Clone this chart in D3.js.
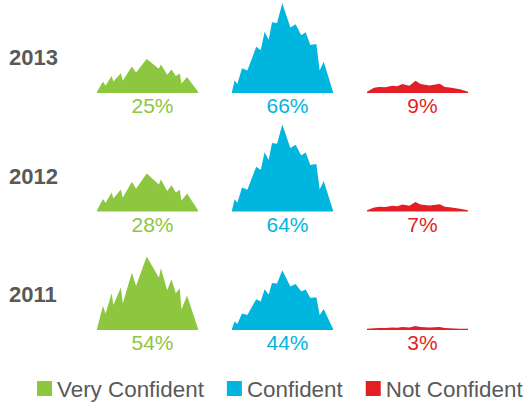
<!DOCTYPE html>
<html>
  <head>
    <style>
    body {
        margin: 0px;
        overflow: hidden;
        background: #fff;
    }
    text {
        font-family: "Liberation Sans", Arial, sans-serif;
    }
    </style>
    <script src="https://d3js.org/d3.v7.min.js"></script>
  </head>
  <body>
    <svg width="532" height="402"></svg>
    <script>
        // data
        const years = ['2013', '2012', '2011'];
        const categories = ['Very Confident', 'Confident', 'Not Confident'];
        const veryConfident = [25, 28, 54];
        const confident = [66, 64, 44];
        const notConfident = [9, 7, 3];
        const colors = ['#8dc63f', '#00b5de', '#e31e25'];

        // mountain outlines for each category: [x fraction, height fraction]
        const greenProfile = [[0,0],[0.059,0.33],[0.085,0.22],[0.145,0.5],[0.162,0.34],[0.236,0.58],[0.255,0.36],[0.345,0.78],[0.387,0.6],[0.492,1],[0.613,0.71],[0.633,0.84],[0.695,0.54],[0.738,0.69],[0.78,0.5],[0.82,0.57],[0.836,0.28],[0.892,0.47],[1,0]];
        const blueProfile = [[0,0],[0.026,0.14],[0.053,0.1],[0.099,0.275],[0.152,0.25],[0.24,0.515],[0.284,0.477],[0.323,0.682],[0.363,0.593],[0.396,0.787],[0.446,0.779],[0.498,1],[0.578,0.729],[0.63,0.767],[0.686,0.643],[0.729,0.678],[0.776,0.535],[0.835,0.547],[0.868,0.252],[0.908,0.349],[1,0]];
        const redProfile = [[0,0.05],[0.07,0.42],[0.12,0.5],[0.18,0.47],[0.25,0.6],[0.3,0.55],[0.35,0.73],[0.42,0.6],[0.48,1],[0.53,0.73],[0.62,0.62],[0.72,0.75],[0.77,0.5],[0.82,0.45],[0.92,0.3],[1,0]];
        const profiles = [greenProfile, blueProfile, redProfile];
        const series = [veryConfident, confident, notConfident];

        const svg = d3.select('svg');

        // column and row placement
        const xScale = d3.scaleBand()
            .domain(categories)
            .range([97, 468])
            .paddingInner(0.252);

        const rowScale = d3.scalePoint()
            .domain(years)
            .range([93, 330]);

        // height of the mountain peak per percent
        const hScale = d3.scaleLinear()
            .domain([0, 100])
            .range([0, 136]);

        const cells = [];
        years.forEach((yr, i) => {
            categories.forEach((cat, j) => {
                cells.push({year: yr, cat: cat, value: series[j][i], profile: profiles[j], color: colors[j]});
            });
        });

        // row labels
        svg.selectAll('.year').data(years)
            .enter().append('text')
                .attr('class', 'year')
                .attr('x', 9)
                .attr('y', d => rowScale(d) - 28)
                .attr('font-size', '22px')
                .attr('font-weight', 'bold')
                .attr('fill', '#595959')
                .text(d => d);

        // mountains
        svg.selectAll('.mountain').data(cells)
            .enter().append('path')
                .attr('class', 'mountain')
                .attr('fill', d => d.color)
                .attr('d', d => {
                    const x0 = xScale(d.cat);
                    const px = d3.scaleLinear().domain([0, 1]).range([x0, x0 + xScale.bandwidth()]);
                    const base = rowScale(d.year);
                    const area = d3.area()
                        .x(p => px(p[0]))
                        .y0(base)
                        .y1(p => base - Math.max(1.2, hScale(d.value) * p[1]));
                    return area(d.profile);
                });

        // percent labels
        svg.selectAll('.pct').data(cells)
            .enter().append('text')
                .attr('class', 'pct')
                .attr('x', d => xScale(d.cat) + xScale.bandwidth() / 2 + 5)
                .attr('y', d => rowScale(d.year) + 20)
                .attr('text-anchor', 'middle')
                .attr('font-size', '21px')
                .attr('fill', d => d.color)
                .text(d => d.value + '%');

        // legend
        const legend = svg.append('g').attr('transform', 'translate(37,381)');
        let lx = 0;
        categories.forEach((cat, j) => {
            const item = legend.append('g').attr('transform', `translate(${lx},0)`);
            item.append('rect')
                .attr('width', 15)
                .attr('height', 15)
                .attr('fill', colors[j]);
            const t = item.append('text')
                .attr('x', 20)
                .attr('y', 15.5)
                .attr('font-size', '22.4px')
                .attr('fill', '#595959')
                .text(cat);
            lx += 20 + t.node().getComputedTextLength() + 23;
        });
    </script>
  </body>
</html>
